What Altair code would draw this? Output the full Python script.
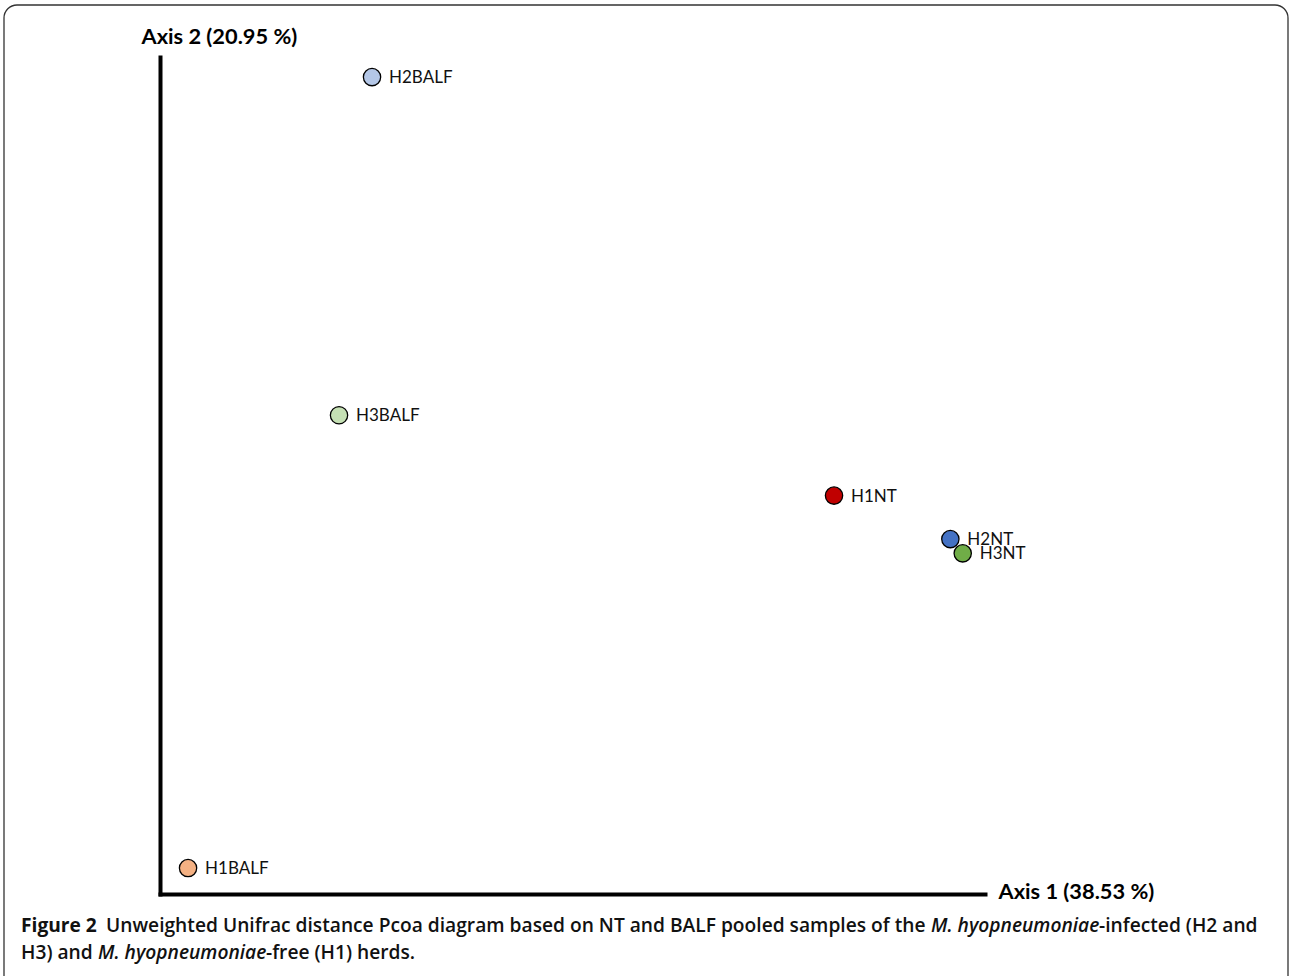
import altair as alt
import pandas as pd

# PCoA sample coordinates (arbitrary units, 0-100 along each axis)
samples = ["H2BALF", "H3BALF", "H1NT", "H2NT", "H3NT", "H1BALF"]
axis1 = [25.7, 21.7, 81.7, 95.8, 97.3, 3.4]
axis2 = [97.6, 57.2, 47.6, 42.4, 40.7, 3.1]
colors = ["#b4c7e7", "#c5e0b4", "#c00000", "#4472c4", "#70ad47", "#f4b183"]

axis1_title = "Axis 1 (38.53 %)"
axis2_title = "Axis 2 (20.95 %)"

df = pd.DataFrame({"sample": samples, "axis1": axis1, "axis2": axis2})
one = pd.DataFrame({"k": [0]})

FONT = "Lato"
CAP_FONT = "Open Sans"
CAP_SIZE = 19.2
LEFT, TOP = 160, 57  # plot origin on the page

xs = alt.Scale(domain=[0, 100], nice=False, zero=False)
ys = alt.Scale(domain=[0, 100], nice=False, zero=False)

common_axis = dict(ticks=False, labels=False, grid=False, domainWidth=4,
                   domainColor="black", domainCap="square",
                   titleFont=FONT, titleFontSize=21.8, titleFontWeight="bold",
                   titleColor="black", titleAngle=0, titleAlign="left",
                   titleBaseline="middle")

x_enc = alt.X("axis1:Q", scale=xs,
              axis=alt.Axis(title=axis1_title, titleX=838, titleY=-3, **common_axis))
y_enc = alt.Y("axis2:Q", scale=ys,
              axis=alt.Axis(title=axis2_title, titleX=-19, titleY=-21, **common_axis))

points = alt.Chart(df).mark_circle(size=300, stroke="black", strokeWidth=1.3,
                                   opacity=1).encode(
    x=x_enc, y=y_enc,
    color=alt.Color("sample:N", scale=alt.Scale(domain=samples, range=colors),
                    legend=None),
    order=alt.Order("idx:Q"),
).transform_window(idx="row_number()")

labels = alt.Chart(df).mark_text(align="left", baseline="middle", dx=17, dy=1,
                                 font=FONT, fontSize=17, color="#111").encode(
    x=alt.X("axis1:Q", scale=xs), y=alt.Y("axis2:Q", scale=ys), text="sample:N")

# figure frame
frame = alt.Chart(one).mark_rect(fillOpacity=0, stroke="#333", strokeWidth=1.3,
                                 cornerRadius=13, clip=False).encode(
    x=alt.value(4 - LEFT), x2=alt.value(1288 - LEFT),
    y=alt.value(5 - TOP), y2=alt.value(990 - TOP))

# caption, split into runs of differing style
caption_runs = [
    ("Figure 2", 21, 926, "bold", "normal"),
    ("Unweighted Unifrac distance Pcoa diagram based on NT and BALF pooled samples of the",
     106, 926, 600, "normal"),
    ("M. hyopneumoniae", 931, 926, 600, "italic"),
    ("-infected (H2 and", 1099, 926, 600, "normal"),
    ("H3) and", 21, 953, 600, "normal"),
    ("M. hyopneumoniae", 98, 953, 600, "italic"),
    ("-free (H1) herds.", 266, 953, 600, "normal"),
]
caption_layers = []
for txt, px, py, weight, style in caption_runs:
    caption_layers.append(
        alt.Chart(one).mark_text(align="left", baseline="middle", font=CAP_FONT,
                                 fontSize=CAP_SIZE, fontWeight=weight, fontStyle=style,
                                 color="#111", clip=False).encode(
            x=alt.value(px - LEFT), y=alt.value(py - TOP), text=alt.value(txt))
    )

chart = alt.layer(frame, points, labels, *caption_layers).properties(
    width=825, height=837,
    background="white",
    autosize=alt.AutoSizeParams(type="none"),
    padding={"left": LEFT, "top": TOP, "right": 1290 - 985, "bottom": 976 - 894},
).configure_view(stroke=None)

chart.save("out.html", embed_options={"renderer": "svg", "actions": False})
